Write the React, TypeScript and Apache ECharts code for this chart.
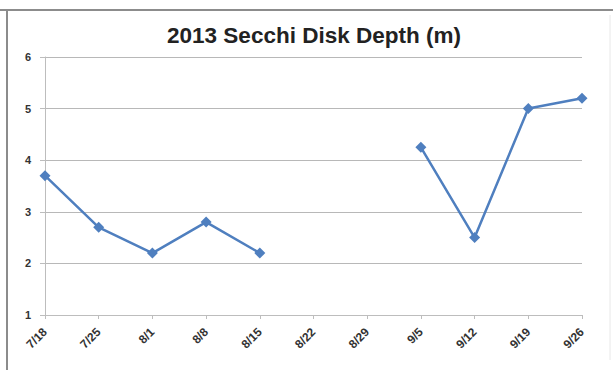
import React, { useEffect, useRef } from "react";
import * as echarts from "echarts";

const categories = ["7/18", "7/25", "8/1", "8/8", "8/15", "8/22", "8/29", "9/5", "9/12", "9/19", "9/26"];
const depth: (number | null)[] = [3.7, 2.7, 2.2, 2.8, 2.2, null, null, 4.25, 2.5, 5.0, 5.2];
const yTicks = { min: 1, max: 6, interval: 1 };
const title = "2013 Secchi Disk Depth (m)";

export default function App() {
  const ref = useRef<HTMLDivElement>(null);
  useEffect(() => {
    if (!ref.current) return;
    const chart = echarts.init(ref.current, null, { renderer: "svg" });
    chart.setOption({
      animation: false,
      backgroundColor: "#ffffff",
      title: {
        text: title,
        left: 309,
        textAlign: "center",
        top: 19,
        textStyle: {
          fontFamily: "Liberation Sans",
          fontWeight: "bold",
          fontSize: 22.5,
          color: "#222222",
        },
      },
      graphic: [
        { type: "line", shape: { x1: 0, y1: 10, x2: 613, y2: 10 }, style: { stroke: "#8c8c8c", lineWidth: 2 } },
        { type: "line", shape: { x1: 7, y1: 10, x2: 7, y2: 370 }, style: { stroke: "#8c8c8c", lineWidth: 2 } },
        { type: "line", shape: { x1: 610, y1: 15, x2: 610, y2: 360 }, style: { stroke: "#e8e8e8", lineWidth: 1 } },
      ],
      grid: { left: 45, right: 31, top: 57, bottom: 55, containLabel: false },
      xAxis: {
        type: "category",
        data: categories,
        boundaryGap: false,
        axisLine: { show: true, lineStyle: { color: "#bdbdbd", width: 1 } },
        axisTick: { show: true, alignWithLabel: true, length: 4, lineStyle: { color: "#bdbdbd" } },
        axisLabel: {
          rotate: 45,
          interval: 0,
          fontFamily: "Liberation Sans",
          fontWeight: "bold",
          fontSize: 12,
          color: "#333333",
          margin: 15,
        },
        splitLine: { show: false },
      },
      yAxis: {
        type: "value",
        min: yTicks.min,
        max: yTicks.max,
        interval: yTicks.interval,
        axisLine: { show: true, lineStyle: { color: "#bdbdbd", width: 1 } },
        axisTick: { show: true, length: 5, lineStyle: { color: "#bdbdbd" } },
        axisLabel: {
          fontFamily: "Liberation Sans",
          fontWeight: "bold",
          fontSize: 11,
          color: "#333333",
          margin: 14,
        },
        splitLine: { show: true, lineStyle: { color: "#b8b8b8", width: 1 } },
      },
      series: [
        {
          type: "line",
          data: depth,
          connectNulls: false,
          symbol: "diamond",
          symbolSize: 11,
          lineStyle: { color: "#4f7fbf", width: 2.5 },
          itemStyle: { color: "#4f7fbf" },
        },
      ],
    });
    return () => chart.dispose();
  }, []);
  return <div ref={ref} style={{ position: "absolute", left: 0, top: 0, width: 613, height: 370 }} />;
}
